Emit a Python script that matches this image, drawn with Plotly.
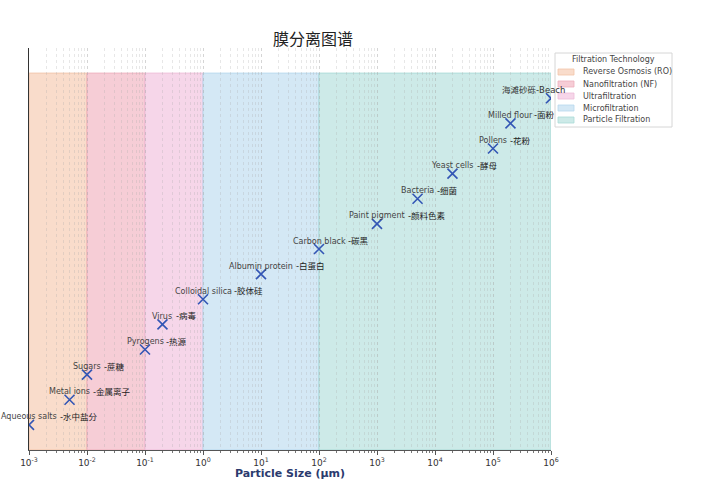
import math
import plotly.graph_objects as go

# -----------------------
# Data
# -----------------------
names_en = ["Aqueous salts", "Metal ions", "Sugars", "Pyrogens", "Virus",
            "Colloidal silica", "Albumin protein", "Carbon black", "Paint pigment",
            "Bacteria", "Yeast cells", "Pollens", "Milled flour", "Beach"]
names_cn = ["水中盐分", "金属离子", "蔗糖", "热源", "病毒", "胶体硅", "白蛋白",
            "碳黑", "颜料色素", "细菌", "酵母", "花粉", "面粉", "海滩砂砾"]
sizes_um = [0.001, 0.005, 0.01, 0.1, 0.2, 1, 10, 100, 1000, 5000, 20000,
            100000, 200000, 1000000]

tech_names = ["Reverse Osmosis (RO)", "Nanofiltration (NF)", "Ultrafiltration",
              "Microfiltration", "Particle Filtration"]
tech_lo = [0.001, 0.01, 0.1, 1, 100]
tech_hi = [0.01, 0.1, 1, 100, 1000000]
tech_fill = ["#f9dccb", "#f6cdd6", "#f6d6e9", "#d4e8f5", "#cdeae8"]
tech_edge = ["#f2c4a8", "#eeaebd", "#eebcd8", "#b6d8ee", "#a9dbd7"]

rows = list(range(len(names_en)))

# -----------------------
# Layout helpers
# -----------------------
W_FIG, H_FIG = 701, 480
M_L, M_R, M_T, M_B = 29, 150, 48, 30
PW = W_FIG - M_L - M_R
PH = H_FIG - M_T - M_B


def px2x(px):
    return (px - M_L) / PW


def px2y(py):
    return (H_FIG - M_B - py) / PH


# DejaVu Sans advance widths (em), used to centre the english part of labels
W = {" ": .318, "-": .361, "A": .684, "B": .686, "C": .698, "M": .863, "P": .603,
     "V": .684, "Y": .611, "a": .613, "b": .635, "c": .550, "d": .635, "e": .615,
     "f": .352, "g": .635, "h": .634, "i": .278, "k": .579, "l": .278, "m": .974,
     "n": .634, "o": .612, "p": .635, "r": .411, "s": .521, "t": .392, "u": .634,
     "y": .592, "q": .635, "w": .818, "x": .592, "z": .525, "v": .592}
FS = 8


def text_w(s):
    return sum(W.get(c, 0.6) for c in s) * FS


fig = go.Figure()

# technology bands
for lo, hi, fc, ec in zip(tech_lo, tech_hi, tech_fill, tech_edge):
    fig.add_shape(type="rect", x0=lo, x1=hi, y0=-1, y1=14, xref="x", yref="y",
                  fillcolor=fc, line=dict(color=ec, width=1), layer="below")

fig.add_trace(go.Scatter(
    x=sizes_um, y=rows, mode="markers",
    marker=dict(symbol="x-thin", size=10, line=dict(color="#3356b5", width=1.6)),
    showlegend=False, hoverinfo="x+y",
))

# labels: english centred on the marker, chinese following it
for en, cn, sz, r in zip(names_en, names_cn, sizes_um, rows):
    lx = math.log10(sz)
    if en == "Beach":
        fig.add_annotation(x=lx, y=r, text=cn + "-" + en, showarrow=False,
                           xanchor="left", yanchor="middle", xshift=-51, yshift=8,
                           font=dict(size=8.5, color="#333"))
        continue
    fig.add_annotation(x=lx, y=r, text=en, showarrow=False, xanchor="center",
                       yanchor="middle", yshift=8, font=dict(size=FS, color="#444"))
    gap = -1 if en == "Milled flour" else 1
    fig.add_annotation(x=lx, y=r, text="-" + cn, showarrow=False, xanchor="left",
                       yanchor="middle", yshift=8, xshift=text_w(en) / 2 + gap,
                       font=dict(size=8.5, color="#222"))

# legend box (drawn by hand to match the compact matplotlib legend)
fig.add_shape(type="rect", xref="paper", yref="paper",
              x0=px2x(555), x1=px2x(672), y0=px2y(127), y1=px2y(53),
              fillcolor="rgba(255,255,255,0.85)", line=dict(color="#d6d6d6", width=1),
              layer="above")
fig.add_annotation(xref="paper", yref="paper", x=px2x(613.5), y=px2y(60),
                   text="Filtration Technology", showarrow=False,
                   xanchor="center", yanchor="middle", font=dict(size=8, color="#444"))
for i, (name, fc, ec) in enumerate(zip(tech_names, tech_fill, tech_edge)):
    cy = 72 + i * 12
    fig.add_shape(type="rect", xref="paper", yref="paper",
                  x0=px2x(558), x1=px2x(574), y0=px2y(cy + 3), y1=px2y(cy - 3),
                  fillcolor=fc, line=dict(color=ec, width=0.8), layer="above")
    fig.add_annotation(xref="paper", yref="paper", x=px2x(581), y=px2y(cy),
                       text=name, showarrow=False, xanchor="left", yanchor="middle",
                       font=dict(size=8, color="#444"))

tickvals = [10 ** k for k in range(-3, 7)]
ticktext = ["10<sup>%d</sup>" % k for k in range(-3, 7)]

fig.update_layout(
    width=W_FIG, height=H_FIG,
    margin=dict(l=M_L, r=M_R, t=M_T, b=M_B),
    paper_bgcolor="white", plot_bgcolor="white",
    font=dict(family="DejaVu Sans, Noto Sans CJK SC, sans-serif", color="#333"),
    title=dict(text="膜分离图谱", x=px2x(313), xref="paper", xanchor="center",
               y=1 - 39 / H_FIG, yanchor="middle",
               font=dict(family="Noto Sans CJK SC", size=16, color="#222")),
    showlegend=False,
)

grid_c = "rgba(170,170,170,0.28)"
fig.update_xaxes(
    type="log", range=[-3, 6], automargin=False,
    tickvals=tickvals, ticktext=ticktext,
    ticks="outside", ticklen=4, tickcolor="#555", tickfont=dict(size=9, color="#333"),
    showline=True, linecolor="#555", linewidth=1,
    showgrid=True, gridcolor=grid_c, griddash="dot", gridwidth=0.6,
    minor=dict(dtick="D1", ticks="outside", ticklen=2, tickcolor="#777",
               showgrid=True, gridcolor=grid_c, griddash="dot", gridwidth=0.6),
    zeroline=False,
    title=dict(text="<b>Particle Size (μm)</b>", standoff=4,
               font=dict(size=11, color="#2b3a6e")),
)
fig.update_yaxes(
    range=[-1, 15], showticklabels=False, ticks="", showgrid=False, zeroline=False,
    showline=True, linecolor="#333", linewidth=1, automargin=False,
)

# drop the default 8px page margin so the figure sits at the window's corner
fig.write_html("out.html", config={"displayModeBar": False},
               post_script="document.body.style.margin='0';")
